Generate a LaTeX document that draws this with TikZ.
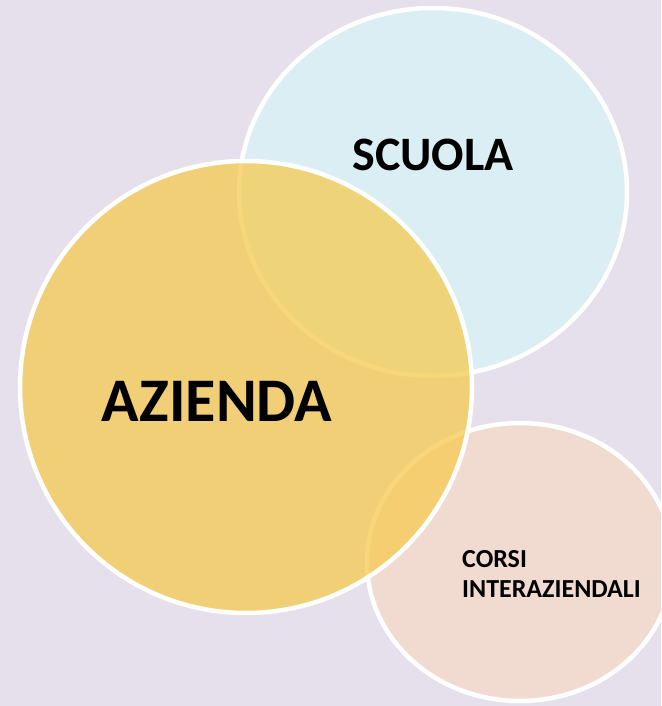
\documentclass[tikz,border=0pt]{standalone}
\usepackage{fontspec}
\setmainfont{Carlito}
\usepackage{xcolor}
\definecolor{lavenderbg}{RGB}{230, 224, 236}
\definecolor{paleblue}{RGB}{218, 238, 243}
\definecolor{palepeach}{RGB}{241, 219, 209}
\definecolor{softgold}{RGB}{246, 202, 80}

\tikzset{
    bubble/.style={draw=white,line width=4.5pt},
    bubbletext/.style={text=black,font=\bfseries,inner sep=0pt}
}

\begin{document}
\begin{tikzpicture}[x=1pt,y=-1pt]
        % Page and background
        \useasboundingbox (0,0) rectangle (661,706);
        \clip (0,0) rectangle (661,706);
        \fill[lavenderbg] (0,0) rectangle (661,706);

        % Back circles
        \fill[paleblue] (433,192) ellipse (194 and 184);
        \draw[bubble] (433,192) ellipse (194 and 184);
        \fill[palepeach] (520,562) ellipse (153 and 139);
        \draw[bubble] (520,562) ellipse (153 and 139);

        % Front circle
        \fill[softgold,fill opacity=0.75] (246,387) ellipse (226 and 226);
        \draw[bubble] (246,387) ellipse (226 and 226);

        % Labels
        \node[bubbletext,font=\bfseries\fontsize{48}{56}\selectfont] (scuola) at (433,155) {SCUOLA};
        \node[bubbletext,font=\bfseries\fontsize{62}{70}\selectfont] (azienda) at (217,401) {AZIENDA};
        \node[bubbletext,font=\bfseries\fontsize{26}{30}\selectfont,anchor=base west,align=left] (corsi) at (462,597) {CORSI\\INTERAZIENDALI};
    \end{tikzpicture}
\end{document}
